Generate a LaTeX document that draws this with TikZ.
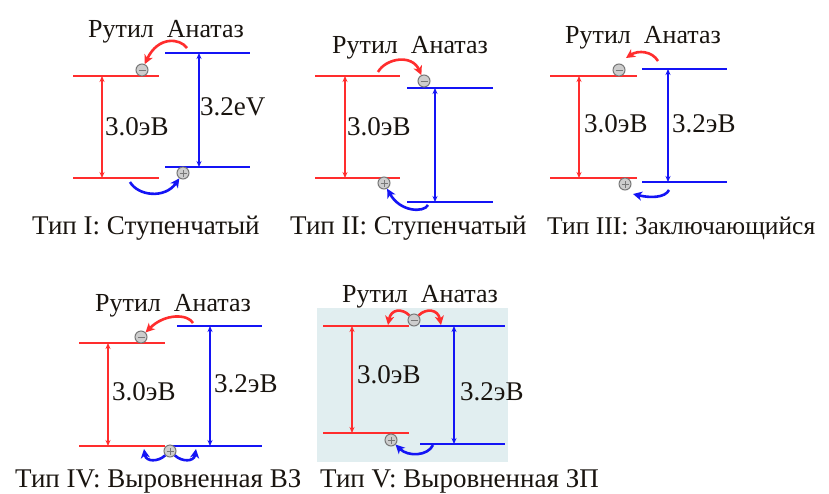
\documentclass[tikz,border=0pt]{standalone}
\usepackage{fontspec}
\setmainfont{Liberation Serif}
\usetikzlibrary{arrows.meta}
\definecolor{rd}{RGB}{255,45,45}
\definecolor{bl}{RGB}{20,20,245}
\definecolor{bgv}{RGB}{225,238,240}
\definecolor{txt}{RGB}{25,20,15}
\definecolor{chgfill}{RGB}{205,205,205}
\definecolor{chgline}{RGB}{120,120,120}
\newcommand\mkband[7]{%
  \coordinate (#1tl) at (#3,#5); \coordinate (#1tr) at (#4,#5);
  \coordinate (#1bl) at (#3,#6); \coordinate (#1br) at (#4,#6);
  \coordinate (#1at) at (#7,#5); \coordinate (#1ab) at (#7,#6);
  \draw[lvl,#2] (#1tl) -- (#1tr);
  \draw[lvl,#2] (#1bl) -- (#1br);
  \draw[gap,#2] (#1at) -- (#1ab);}
\tikzset{
  lvl/.style={line width=2pt},
  gap/.style={line width=1.2pt,{Stealth[length=6pt,width=5pt]}-{Stealth[length=6pt,width=5pt]}},
  hop/.style={line width=2.6pt,-{Stealth[length=9pt,width=9pt,inset=2.5pt]}},
  chg/.style={circle,draw=chgline,fill=chgfill,minimum size=12pt,inner sep=0pt,line width=1pt},
  echg/.style={chg,path picture={\draw[chgline,line width=1pt]
      ([xshift=-3.5pt]path picture bounding box.center) -- ([xshift=3.5pt]path picture bounding box.center);}},
  hchg/.style={chg,path picture={\draw[chgline,line width=1pt]
      ([xshift=-3.5pt]path picture bounding box.center) -- ([xshift=3.5pt]path picture bounding box.center)
      ([yshift=-3.5pt]path picture bounding box.center) -- ([yshift=3.5pt]path picture bounding box.center);}},
  lbl/.style={anchor=base west,inner sep=0pt,text=txt,font=\fontsize{27}{29}\selectfont},
  ttl/.style={anchor=base west,inner sep=0pt,text=txt,font=\fontsize{26}{28}\selectfont},
}
\begin{document}
\begin{tikzpicture}[x=1pt,y=-1pt]
\useasboundingbox (0,0) rectangle (829,493);
\fill[white] (0,0) rectangle (829,493);
\fill[bgv] (317,308) rectangle (508,462);

% ---------- Panel I ----------
\node[ttl] (t1) at (88,37) {Рутил\ \ Анатаз};
\mkband{r1}{rd}{73}{159}{76}{178}{102}
\mkband{b1}{bl}{165}{250}{53}{167}{199}
\node[lbl] (g1r) at (105,135) {3.0эВ};
\node[lbl] (g1b) at (200,115) {3.2eV};
\node[echg] (m1) at (142,70) {};
\node[hchg] (p1) at (183,173) {};
\coordinate (s1) at (187,48);
\coordinate (u1) at (130,182);
\draw[hop,rd] (s1) .. controls (180,38) and (158,36) .. (m1);
\draw[hop,bl] (u1) .. controls (138,196) and (165,199) .. (p1);
\node[lbl] (c1) at (32,234) {Тип I: Ступенчатый};

% ---------- Panel II ----------
\node[ttl] (t2) at (332,53) {Рутил\ \ Анатаз};
\mkband{r2}{rd}{315}{400}{76}{178}{345}
\mkband{b2}{bl}{407}{493}{88}{202}{435}
\node[lbl] (g2r) at (347,135) {3.0эВ};
\node[echg] (m2) at (424,81) {};
\node[hchg] (p2) at (384,183) {};
\coordinate (s2) at (378,72);
\coordinate (u2) at (428,205);
\draw[hop,rd] (s2) .. controls (386,58) and (412,54) .. (m2);
\draw[hop,bl] (u2) .. controls (424,213) and (400,212) .. (p2);
\node[lbl] (c2) at (290,234) {Тип II: Ступенчатый};

% ---------- Panel III ----------
\node[ttl] (t3) at (565,43) {Рутил\ \ Анатаз};
\mkband{r3}{rd}{550}{637}{76}{178}{579}
\mkband{b3}{bl}{642}{727}{69}{182}{668}
\node[lbl] (g3r) at (584,132) {3.0эВ};
\node[lbl] (g3b) at (672,132) {3.2эВ};
\node[echg] (m3) at (619,70) {};
\node[hchg] (p3) at (625,184) {};
\coordinate (s3) at (658,61);
\coordinate (e3) at (626,58);
\coordinate (u3) at (669,190);
\coordinate (f3) at (633,194);
\draw[hop,rd] (s3) .. controls (652,51) and (638,50) .. (e3);
\draw[hop,bl] (u3) .. controls (665,198) and (650,198) .. (f3);
\node[lbl,font=\fontsize{25.5}{28}\selectfont] (c3) at (547,234) {Тип III: Заключающийся};

% ---------- Panel IV ----------
\node[ttl] (t4) at (95,311) {Рутил\ \ Анатаз};
\mkband{r4}{rd}{79}{165}{343}{446}{108}
\mkband{b4}{bl}{177}{262}{326}{446}{210}
\coordinate (b4bx) at (167,446);
\draw[lvl,bl] (b4bx) -- (b4bl);
\node[lbl] (g4r) at (112,400) {3.0эВ};
\node[lbl] (g4b) at (214,392) {3.2эВ};
\node[echg] (m4) at (141,337) {};
\node[hchg] (p4) at (170,451) {};
\coordinate (s4) at (193,323);
\coordinate (q4l) at (144,449);
\coordinate (q4r) at (196,449);
\draw[hop,rd] (s4) .. controls (188,314) and (165,313) .. (m4);
\draw[hop,bl] (p4) .. controls (158,462) and (146,462) .. (q4l);
\draw[hop,bl] (p4) .. controls (182,462) and (194,462) .. (q4r);
\node[lbl] (c4) at (15,487) {Тип IV: Выровненная ВЗ};

% ---------- Panel V ----------
\node[ttl] (t5) at (342,302) {Рутил\ \ Анатаз};
\mkband{r5}{rd}{323}{409}{326}{433}{352}
\mkband{b5}{bl}{420}{505}{326}{444}{454}
\node[lbl] (g5r) at (357,383) {3.0эВ};
\node[lbl] (g5b) at (460,400) {3.2эВ};
\node[echg] (m5) at (414,320) {};
\node[hchg] (p5) at (391,440) {};
\coordinate (q5l) at (388,325);
\coordinate (q5r) at (441,325);
\coordinate (u5) at (433,445);
\draw[hop,rd] (m5) .. controls (402,308) and (391,309) .. (q5l);
\draw[hop,rd] (m5) .. controls (426,308) and (438,309) .. (q5r);
\draw[hop,bl] (u5) .. controls (428,456) and (408,457) .. (p5);
\node[lbl] (c5) at (320,487) {Тип V: Выровненная ЗП};
\end{tikzpicture}
\end{document}
